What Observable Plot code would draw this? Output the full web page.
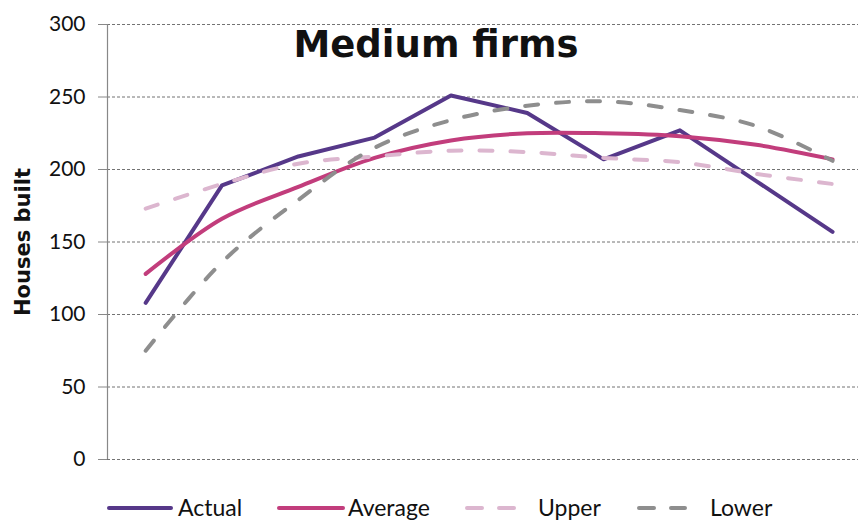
<!DOCTYPE html>
<html>
<head>
<meta charset="utf-8">
<script src="https://cdn.jsdelivr.net/npm/d3@7"></script>
<script src="https://cdn.jsdelivr.net/npm/@observablehq/plot@0.6"></script>
<style>
  html, body { margin: 0; padding: 0; background: #fff; }
  #chart { width: 861px; }
  .legend { position: relative; width: 861px; height: 42px; font-family: Lato, sans-serif; font-size: 23px; color: #111; }
  .legend .sw { position: absolute; top: 24px; }
  .legend .lab { position: absolute; top: 13px; line-height: 28px; }
</style>
</head>
<body>
<div id="chart"></div>
<script>
// ---- data ----
const periods = [1, 2, 3, 4, 5, 6, 7, 8, 9, 10];
const actual  = [108, 189, 209, 222, 251, 239, 207, 227, 192, 157];
const average = [128, 166, 188, 208, 220, 225, 225, 223, 217, 207];
const upper   = [173, 190, 204, 209, 213, 212, 208, 205, 197, 190];
const lower   = [75, 136, 179, 215, 234, 244, 247, 241, 230, 206];
const yTicks  = [0, 50, 100, 150, 200, 250, 300];
const seriesNames = ["Actual", "Average", "Upper", "Lower"];
const titleText = "Medium firms";
const yLabel = "Houses built";

const colors = { Actual: "#563889", Average: "#c23d7c", Upper: "#dcb6cf", Lower: "#8e8e8e" };
const dashes = { Actual: null, Average: null, Upper: "13,18", Lower: "13,18" };
const curves = { Actual: "linear", Average: "catmull-rom", Upper: "catmull-rom", Lower: "catmull-rom" };

const valuesBy = { Actual: actual, Average: average, Upper: upper, Lower: lower };
const table = seriesNames.flatMap(s => periods.map((p, i) => ({ series: s, i, period: p, value: valuesBy[s][i] })));

const xDomain = [-0.5, 9.34];

const lineMarks = seriesNames.map(s => Plot.line(table.filter(d => d.series === s), {
  x: "i", y: "value",
  stroke: colors[s], strokeWidth: 4,
  strokeDasharray: dashes[s] ?? undefined,
  curve: curves[s]
}));

const plot = Plot.plot({
  width: 861,
  height: 480,
  marginLeft: 107,
  marginRight: 3,
  marginTop: 24,
  marginBottom: 21,
  style: { fontFamily: "Lato, sans-serif", background: "#fff", color: "#111" },
  x: { type: "linear", domain: xDomain, axis: null },
  y: { domain: [0, 300], axis: null },
  marks: [
    Plot.gridY(yTicks, { stroke: "#444", strokeOpacity: 0.75, strokeWidth: 1, strokeDasharray: "3,2" }),
    Plot.axisY(yTicks, { tickSize: 9, tickPadding: 13, fontSize: 21, stroke: "#888", fill: "#111", label: null, tickFormat: d => String(d) }),
    Plot.ruleX([xDomain[0]], { y1: yTicks[0], y2: yTicks[yTicks.length - 1], stroke: "#888", strokeWidth: 1.2 }),
    ...lineMarks,
    Plot.text([titleText], { frameAnchor: "top", dx: -47, dy: 21, lineAnchor: "middle", fontSize: 37, fontWeight: "bold", fontFamily: "DejaVu Sans", fill: "#111" }),
    Plot.text([yLabel], { frameAnchor: "left", dx: -84, rotate: -90, textAnchor: "middle", lineAnchor: "middle", fontSize: 21, fontWeight: "bold", fontFamily: "DejaVu Sans", fill: "#111" })
  ]
});
document.getElementById("chart").appendChild(plot);

// legend
const legendLayout = {
  Actual:  { sx: 107, sw: 66, tx: 178 },
  Average: { sx: 277, sw: 68, tx: 348 },
  Upper:   { sx: 465, sw: 52, tx: 538 },
  Lower:   { sx: 637, sw: 50, tx: 710 }
};
const legend = d3.select("body").append("div").attr("class", "legend");
seriesNames.forEach(s => {
  const L = legendLayout[s];
  const svg = legend.append("svg").attr("class", "sw")
    .style("left", L.sx + "px").attr("width", L.sw).attr("height", 8);
  svg.append("line").attr("x1", 2).attr("x2", L.sw - 2).attr("y1", 4).attr("y2", 4)
    .attr("stroke", colors[s]).attr("stroke-width", 4).attr("stroke-linecap", "round")
    .attr("stroke-dasharray", dashes[s] ? "15,17" : null);
  legend.append("span").attr("class", "lab").style("left", L.tx + "px").text(s);
});
</script>
</body>
</html>
